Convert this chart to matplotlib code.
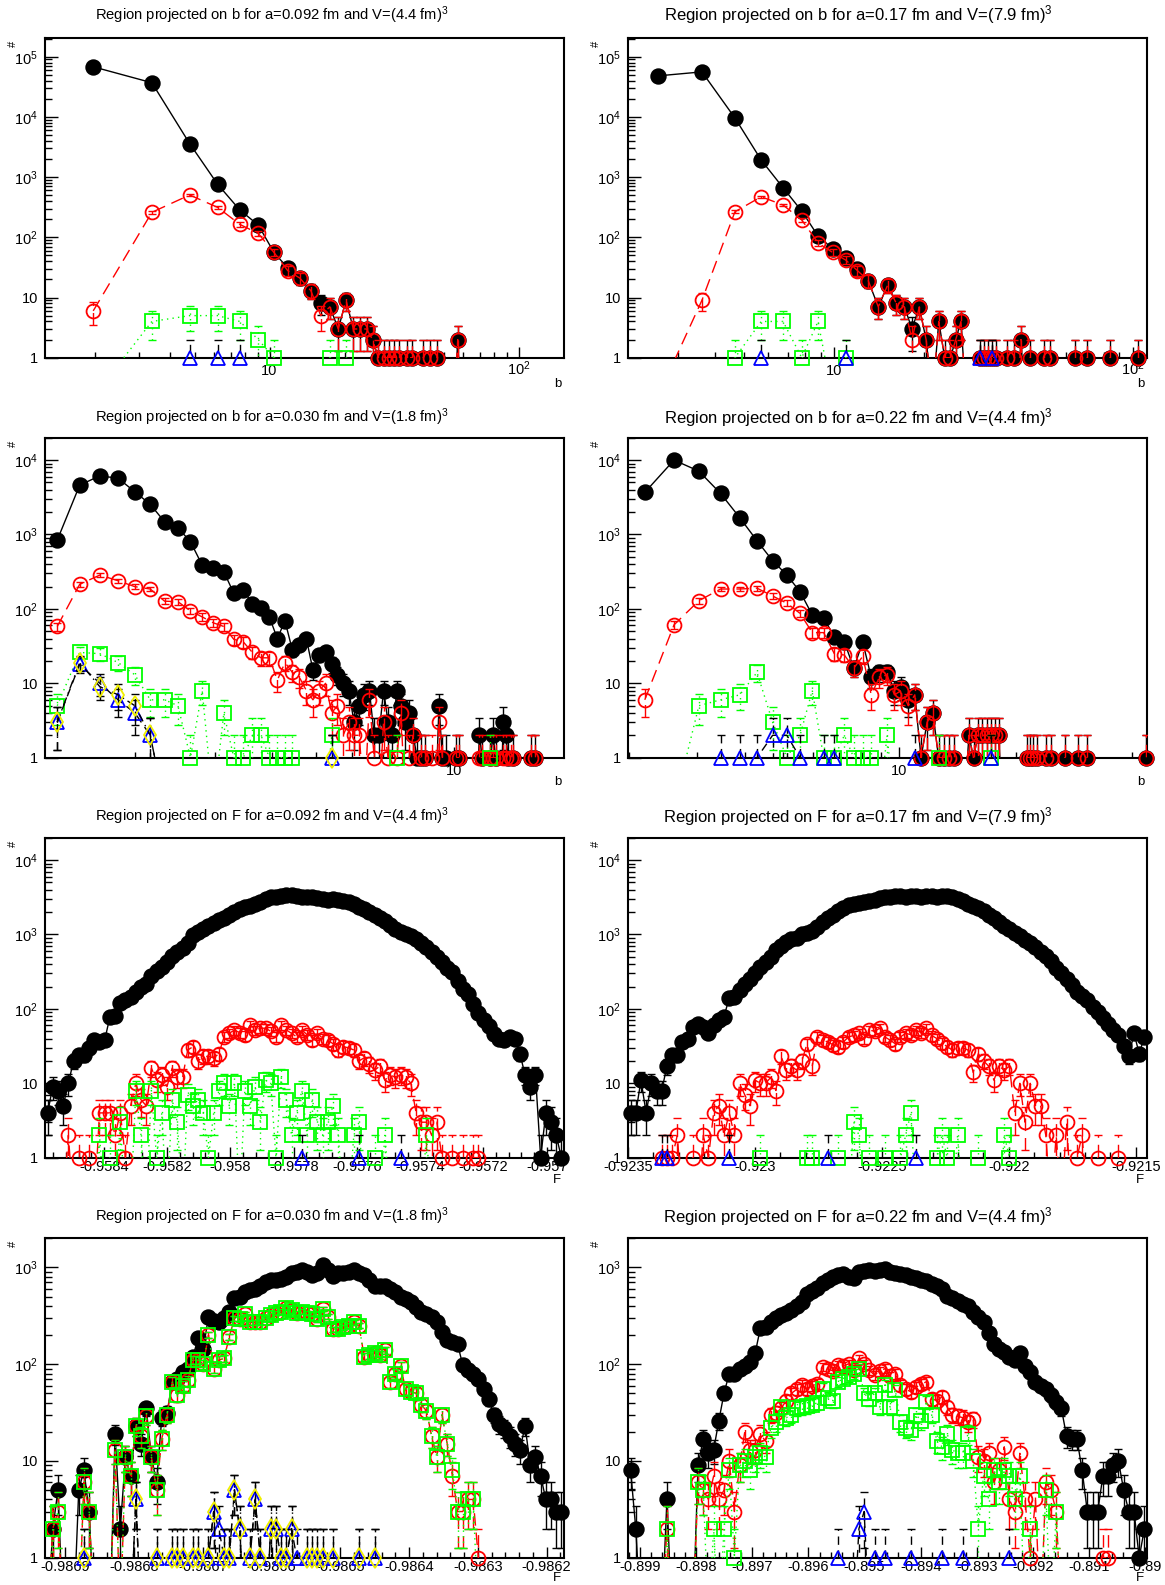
import numpy as np
import matplotlib
matplotlib.use("Agg")
import matplotlib.pyplot as plt
from matplotlib.ticker import (LogLocator, MultipleLocator, AutoMinorLocator,
                               FuncFormatter, NullFormatter)
from matplotlib.transforms import blended_transform_factory

plt.rcParams["font.family"] = ["Liberation Sans", "DejaVu Sans"]
plt.rcParams["mathtext.default"] = "regular"

# ---------------------------------------------------------------- data
# histogram binning: (low edge, high edge, number of bins)
b092_bins = (1.255, 152.125, 107)
b017_bins = (2.0375, 111.76, 105)
b030_bins = (1.269, 17.469, 100)
b022_bins = (1.987, 43.787, 100)
f092_bins = (-0.9585866, -0.9569453, 100)
f017_bins = (-0.9235, -0.921456, 100)
f030_bins = (-0.9869295, -0.9861748, 100)
f022_bins = (-0.899212, -0.88997, 100)

# counts per bin (bins not listed are empty)
b092_black = [68000, 37000, 3600, 760, 284, 160, 56, 31, 21, 13,
              8, 7, 3, 9, 3, 3, 3, 2, 1, 1,
              1, 1, 1, 0, 1, 1, 0, 0, 1, 0,
              1, 0, 1, 0, 0, 0, 0, 0, 0, 2]
b092_red = [6, 260, 505, 314, 164, 116, 56, 28, 21, 13,
            5, 7, 3, 9, 3, 3, 3, 2, 1, 1,
            1, 1, 1, 0, 1, 1, 0, 0, 1, 0,
            1, 0, 1, 0, 0, 0, 0, 0, 0, 2]
b092_green = [0, 4, 5, 5, 4, 2, 1, 0, 0, 0, 0, 1, 0, 1]
b092_blue = [0, 0, 1, 1, 1]

b017_black = [48000, 56000, 9600, 1920, 667, 273, 105, 65, 45, 30,
              19, 7, 16, 8, 7, 3, 7, 2, 0, 4,
              1, 1, 2, 4, 0, 0, 0, 1, 1, 1,
              1, 1, 0, 0, 1, 0, 1, 0, 2, 0,
              0, 1, 0, 0, 0, 0, 1, 0, 1, 0,
              0, 0, 0, 0, 0, 0, 0, 0, 0, 1,
              0, 0, 0, 0, 0, 1, 0, 0, 0, 0,
              0, 0, 0, 0, 0, 0, 0, 0, 1, 0,
              0, 0, 0, 0, 0, 0, 0, 0, 0, 0,
              0, 0, 0, 0, 0, 0, 0, 1]
b017_red = [0, 9, 266, 472, 344, 194, 81, 56, 42, 28,
            19, 7, 16, 8, 7, 2, 7, 2, 0, 4,
            1, 1, 2, 4, 0, 0, 0, 1, 1, 1,
            1, 1, 0, 0, 1, 0, 1, 0, 2, 0,
            0, 1, 0, 0, 0, 0, 1, 0, 1, 0,
            0, 0, 0, 0, 0, 0, 0, 0, 0, 1,
            0, 0, 0, 0, 0, 1, 0, 0, 0, 0,
            0, 0, 0, 0, 0, 0, 0, 0, 1, 0,
            0, 0, 0, 0, 0, 0, 0, 0, 0, 0,
            0, 0, 0, 0, 0, 0, 0, 1]
b017_green = [0, 0, 1, 4, 4, 1, 4, 0, 1]
b017_blue = [0, 0, 0, 1, 0, 0, 0, 0, 1, 0,
             0, 0, 0, 0, 0, 0, 0, 0, 0, 0,
             0, 0, 0, 0, 0, 0, 0, 1, 0, 0,
             1]

b030_black = [840, 4600, 6150, 5700, 3750, 2540, 1480, 1230, 800, 388,
              350, 316, 162, 179, 118, 102, 78, 40, 69, 28,
              33, 40, 15, 24, 26, 18, 13, 10, 8, 3,
              5, 7, 8, 2, 2, 8, 3, 2, 8, 5,
              3, 4, 2, 1, 1, 1, 0, 0, 0, 5,
              1, 1, 0, 0, 1, 1, 0, 0, 0, 0,
              0, 0, 2, 1, 0, 0, 1, 2, 1, 0,
              0, 3, 2, 1, 0, 1, 0, 0, 0, 0,
              0, 0, 0, 1, 0, 1]
b030_red = [58, 214, 285, 239, 199, 185, 127, 125, 94, 78,
            65, 58, 39, 36, 26, 22, 22, 11, 19, 14,
            12, 8, 6, 8, 10, 4, 5, 2, 3, 2,
            2, 0, 6, 1, 0, 3, 1, 0, 1, 4,
            0, 1, 2, 0, 1, 1, 0, 1, 0, 3,
            1, 0, 0, 0, 1, 1, 0, 0, 0, 0,
            0, 0, 1, 1, 0, 0, 1, 1, 1, 0,
            0, 1, 1, 0, 1, 1, 0, 0, 0, 0,
            0, 0, 0, 1, 0, 1]
b030_green = [5, 26, 25, 19, 13, 6, 6, 5, 1, 8,
              0, 4, 1, 1, 2, 2, 1, 1, 1, 1,
              0, 0, 0, 0, 0, 2, 0, 0, 0, 0,
              0, 0, 0, 0, 0, 0, 0, 0, 1, 0,
              0, 0, 0, 0, 0, 0, 0, 0, 0, 0,
              0, 0, 0, 0, 0, 0, 0, 0, 0, 0,
              0, 0, 0, 0, 0, 0, 1]
b030_blue = [3, 18, 10, 6, 4, 2, 0, 0, 0, 0,
             0, 0, 0, 0, 0, 0, 0, 0, 0, 0,
             0, 0, 0, 0, 0, 1]
b030_yellow = [3, 19, 9, 7, 5, 2, 0, 0, 0, 0,
               0, 0, 0, 0, 0, 0, 0, 0, 0, 0,
               0, 0, 0, 0, 0, 1]

b022_black = [3680, 10000, 7100, 3560, 1680, 824, 444, 285, 170, 83,
              76, 42, 36, 16, 36, 12, 14, 14, 8, 9,
              6, 7, 1, 3, 4, 1, 1, 1, 1, 0,
              0, 2, 1, 2, 2, 2, 2, 2, 2, 0,
              0, 0, 0, 0, 0, 0, 1, 1, 1, 1,
              0, 0, 1, 0, 1, 0, 0, 0, 0, 1,
              0, 0, 0, 0, 1, 0, 0, 0, 1, 0,
              0, 0, 0, 0, 0, 0, 0, 0, 0, 0,
              0, 0, 0, 0, 0, 0, 0, 0, 0, 0,
              0, 0, 0, 0, 0, 0, 0, 0, 0, 1]
b022_red = [6, 61, 129, 185, 185, 190, 149, 119, 87, 48,
            48, 25, 24, 16, 23, 7, 12, 13, 7, 8,
            5, 7, 1, 3, 4, 1, 1, 1, 1, 0,
            0, 2, 1, 2, 2, 2, 2, 2, 2, 0,
            0, 0, 0, 0, 0, 0, 1, 1, 1, 1,
            0, 0, 1, 0, 1, 0, 0, 0, 0, 1,
            0, 0, 0, 0, 1, 0, 0, 0, 1, 0,
            0, 0, 0, 0, 0, 0, 0, 0, 0, 0,
            0, 0, 0, 0, 0, 0, 0, 0, 0, 0,
            0, 0, 0, 0, 0, 0, 0, 0, 0, 1]
b022_green = [0, 0, 5, 6, 7, 14, 3, 1, 2, 8,
              1, 1, 2, 1, 1, 1, 0, 2, 0, 0,
              0, 0, 0, 0, 0, 1, 0, 0, 0, 0,
              0, 0, 0, 0, 0, 0, 1]
b022_blue = [0, 0, 0, 1, 1, 1, 2, 2, 1, 0,
             1, 1, 0, 0, 0, 0, 0, 0, 0, 0,
             0, 1, 0, 0, 0, 0, 0, 0, 0, 0,
             0, 0, 0, 0, 0, 0, 1]

f092_black = [4, 9, 8, 5, 10, 20, 24, 24, 30, 38,
              36, 38, 78, 80, 120, 130, 145, 170, 195, 215,
              280, 320, 370, 430, 520, 590, 650, 760, 980, 1080,
              1200, 1300, 1420, 1550, 1650, 1830, 2000, 2200, 2350, 2450,
              2600, 2750, 3000, 3150, 3200, 3250, 3350, 3350, 3250, 3200,
              3200, 3150, 3050, 2980, 2950, 3000, 2950, 2850, 2750, 2550,
              2350, 2200, 2000, 1850, 1650, 1500, 1350, 1200, 1080, 1000,
              940, 870, 760, 680, 580, 500, 430, 360, 310, 240,
              185, 160, 115, 88, 72, 58, 46, 40, 38, 42,
              40, 25, 13, 9, 13, 1, 4, 3, 2, 1]
f092_red = [0, 0, 0, 0, 2, 0, 1, 0, 1, 0,
            4, 4, 4, 2, 4, 1, 5, 10, 6, 5,
            16, 11, 13, 9, 16, 12, 12, 28, 31, 20,
            23, 23, 22, 25, 42, 47, 52, 48, 44, 60,
            52, 55, 55, 50, 42, 60, 52, 47, 42, 52,
            45, 38, 47, 40, 38, 34, 28, 31, 30, 28,
            20, 22, 18, 15, 17, 11, 13, 12, 13, 12,
            10, 4, 3, 3, 2, 3, 1, 0, 1, 0,
            1, 0, 1, 1]
f092_green = [0, 0, 0, 0, 0, 0, 0, 0, 0, 0,
              2, 0, 1, 0, 3, 0, 0, 8, 2, 0,
              8, 1, 4, 0, 6, 3, 0, 7, 5, 6,
              4, 1, 4, 8, 10, 5, 10, 0, 8, 5,
              9, 3, 11, 10, 1, 12, 6, 2, 4, 8,
              2, 6, 3, 2, 3, 5, 2, 0, 0, 2,
              3, 0, 0, 1, 0, 2, 0, 0, 0, 0,
              0, 0, 0, 2]
f092_blue = [0, 0, 0, 0, 0, 0, 0, 0, 0, 0,
             0, 0, 0, 0, 0, 0, 0, 0, 0, 0,
             0, 0, 0, 0, 0, 0, 0, 0, 0, 0,
             0, 0, 0, 0, 0, 0, 0, 0, 0, 0,
             0, 0, 0, 0, 0, 0, 0, 0, 0, 1,
             0, 0, 0, 0, 0, 0, 0, 0, 0, 0,
             1, 0, 0, 0, 0, 0, 0, 0, 1]

f017_black = [4, 4, 11, 4, 10, 8, 8, 17, 24, 24,
              36, 40, 57, 63, 57, 47, 60, 70, 79, 140,
              145, 180, 215, 250, 300, 370, 430, 500, 610, 710,
              790, 860, 900, 1000, 1060, 1120, 1250, 1450, 1650, 1850,
              2100, 2300, 2500, 2570, 2650, 2750, 2850, 2950, 3050, 3150,
              3200, 3250, 3250, 3200, 3250, 3250, 3200, 3250, 3250, 3200,
              3250, 3250, 3200, 3000, 2800, 2600, 2450, 2250, 2050, 1850,
              1650, 1450, 1300, 1170, 1050, 950, 850, 760, 670, 590,
              510, 440, 360, 300, 250, 210, 170, 150, 130, 105,
              90, 75, 62, 52, 45, 32, 23, 47, 25, 42]
f017_red = [0, 0, 0, 0, 0, 0, 1, 1, 1, 2,
            0, 0, 1, 0, 2, 1, 4, 5, 2, 4,
            2, 10, 7, 5, 11, 10, 10, 12, 8, 23,
            15, 17, 15, 20, 34, 17, 42, 38, 36, 33,
            31, 36, 42, 44, 47, 40, 52, 50, 55, 42,
            38, 34, 42, 47, 45, 52, 48, 55, 44, 40,
            35, 31, 28, 30, 30, 28, 14, 25, 20, 17,
            11, 17, 15, 17, 4, 10, 3, 10, 5, 5,
            2, 0, 2, 0, 3, 0, 1, 2, 0, 0,
            1, 0, 0, 0, 1]
f017_green = [0, 0, 0, 0, 0, 0, 0, 0, 0, 0,
              0, 0, 0, 0, 0, 0, 0, 0, 0, 0,
              0, 0, 0, 0, 0, 1, 0, 0, 0, 0,
              0, 0, 0, 0, 1, 1, 0, 0, 0, 0,
              1, 0, 0, 3, 2, 0, 1, 0, 0, 1,
              0, 0, 1, 2, 4, 0, 0, 0, 0, 1,
              2, 1, 0, 2, 0, 0, 0, 1, 0, 0,
              0, 0, 2, 1]
f017_blue = [0, 0, 0, 0, 0, 0, 1, 1, 0, 0,
             0, 0, 0, 0, 0, 0, 0, 0, 0, 1,
             0, 0, 0, 0, 0, 0, 0, 0, 0, 0,
             0, 0, 0, 0, 0, 0, 0, 0, 1, 0,
             0, 0, 0, 0, 0, 0, 0, 0, 0, 0,
             0, 0, 0, 0, 0, 1]

f030_black = [0, 2, 5, 0, 0, 0, 5, 8, 3, 0,
              0, 0, 0, 19, 2, 11, 7, 23, 15, 35,
              11, 6, 28, 31, 65, 70, 83, 90, 120, 185,
              145, 310, 280, 270, 300, 350, 480, 500, 560, 580,
              600, 650, 700, 740, 750, 760, 800, 870, 900, 940,
              900, 830, 880, 1050, 950, 810, 870, 870, 900, 940,
              880, 830, 740, 650, 640, 640, 600, 560, 500, 470,
              440, 390, 350, 330, 310, 270, 215, 180, 170, 160,
              98, 87, 80, 71, 56, 44, 30, 24, 22, 18,
              15, 13, 23, 9, 11, 7, 4, 4, 3, 3]
f030_red = [0, 2, 3, 0, 0, 0, 0, 6, 3, 0,
            0, 0, 0, 13, 0, 11, 7, 23, 18, 29,
            11, 5, 17, 30, 65, 48, 60, 68, 110, 110,
            100, 200, 90, 110, 115, 190, 300, 290, 330, 270,
            270, 270, 300, 320, 340, 350, 380, 360, 340, 350,
            340, 330, 290, 370, 310, 230, 230, 240, 250, 270,
            250, 120, 125, 130, 125, 140, 65, 80, 95, 55,
            52, 50, 38, 33, 18, 11, 30, 15, 7, 3,
            3, 4, 4, 1]
f030_green = [0, 2, 3, 0, 0, 0, 0, 6, 3, 0,
              0, 0, 0, 13, 0, 11, 7, 23, 18, 29,
              11, 5, 17, 30, 65, 48, 60, 68, 110, 110,
              100, 200, 90, 110, 115, 190, 300, 290, 330, 270,
              270, 270, 300, 320, 340, 350, 380, 360, 340, 350,
              340, 330, 290, 370, 310, 230, 230, 240, 250, 270,
              250, 120, 125, 130, 125, 140, 65, 80, 95, 55,
              52, 50, 38, 33, 18, 11, 30, 15, 8, 3,
              3, 4, 4]
f030_blue = [0, 0, 0, 0, 0, 0, 0, 1, 0, 0,
             0, 0, 0, 0, 0, 0, 0, 4, 0, 0,
             0, 1, 0, 0, 1, 1, 1, 0, 1, 1,
             0, 1, 3, 2, 1, 1, 5, 2, 0, 1,
             4, 1, 0, 2, 2, 1, 1, 2, 1, 0,
             1, 1, 1, 1, 0, 1, 0, 0, 0, 0,
             1, 0, 0, 1]
f030_yellow = [0, 0, 0, 0, 0, 0, 0, 1, 0, 0,
               0, 0, 0, 0, 0, 0, 0, 4, 0, 0,
               0, 1, 0, 0, 1, 1, 1, 0, 1, 1,
               0, 1, 3, 0, 1, 1, 5, 2, 0, 1,
               4, 1, 0, 2, 2, 1, 1, 2, 0, 0,
               1, 1, 1, 1, 0, 1, 0, 0, 0, 0,
               1, 0, 0, 1]

f022_black = [8, 2, 0, 0, 0, 0, 0, 4, 0, 0,
              0, 0, 0, 9, 17, 12, 13, 26, 50, 80,
              80, 90, 95, 106, 130, 235, 244, 270, 300, 320,
              340, 360, 400, 440, 530, 570, 620, 685, 740, 800,
              830, 860, 800, 780, 890, 920, 940, 920, 950, 960,
              900, 880, 860, 830, 790, 770, 750, 720, 680, 650,
              600, 510, 480, 450, 420, 400, 350, 310, 275, 210,
              160, 145, 135, 120, 110, 130, 95, 84, 66, 60,
              56, 48, 41, 35, 18, 17, 17, 8, 3, 3,
              3, 7, 7, 9, 10, 5, 3, 3, 1, 2]
f022_red = [0, 0, 0, 0, 0, 0, 0, 2, 0, 0,
            0, 0, 0, 6, 5, 4, 7, 4, 5, 10,
            3, 9, 20, 13, 13, 19, 16, 30, 31, 35,
            42, 50, 55, 61, 56, 60, 63, 94, 90, 85,
            98, 95, 101, 88, 115, 100, 87, 77, 85, 90,
            75, 80, 61, 55, 52, 58, 62, 66, 44, 42,
            46, 36, 30, 29, 28, 25, 27, 11, 10, 12,
            6, 8, 14, 4, 3, 12, 4, 1, 4, 0,
            6, 5, 3, 0, 0, 0, 0, 0, 0, 0,
            0, 1, 1]
f022_green = [0, 0, 0, 0, 0, 0, 0, 2, 0, 0,
              0, 0, 0, 6, 5, 0, 2, 0, 2, 8,
              1, 9, 10, 8, 11, 12, 11, 22, 25, 36,
              28, 30, 35, 36, 37, 38, 40, 56, 45, 42,
              66, 71, 74, 80, 90, 50, 44, 50, 36, 61,
              36, 54, 25, 22, 21, 30, 26, 41, 30, 16,
              14, 19, 13, 12, 12, 19, 10, 2, 7, 4,
              8, 6, 8, 7, 4, 7, 0, 2, 0, 0,
              5, 0, 3]
f022_blue = [0, 0, 0, 0, 0, 0, 0, 0, 0, 0,
             0, 0, 0, 0, 0, 0, 0, 0, 0, 0,
             0, 0, 0, 0, 0, 0, 0, 0, 0, 0,
             0, 0, 0, 0, 0, 0, 0, 0, 0, 0,
             1, 0, 0, 0, 2, 3, 0, 1, 0, 1,
             0, 0, 0, 0, 1, 0, 0, 0, 0, 0,
             1, 0, 0, 0, 1, 0, 0, 0, 0, 0,
             0, 0, 0, 1]

PANELS = [
    dict(title="Region projected on b for a=0.092 fm and V=(4.4 fm)$^{3}$", xlabel="b",
         logx=True, bins=b092_bins, ymax=2.07e5,
         series=[("black", b092_black), ("red", b092_red), ("green", b092_green),
                 ("blue", b092_blue)]),
    dict(title="Region projected on b for a=0.17 fm and V=(7.9 fm)$^{3}$", xlabel="b",
         logx=True, bins=b017_bins, ymax=2.07e5,
         series=[("black", b017_black), ("red", b017_red), ("green", b017_green),
                 ("blue", b017_blue)]),
    dict(title="Region projected on b for a=0.030 fm and V=(1.8 fm)$^{3}$", xlabel="b",
         logx=True, bins=b030_bins, ymax=2.0e4,
         series=[("black", b030_black), ("red", b030_red), ("green", b030_green),
                 ("blue", b030_blue), ("yellow", b030_yellow)]),
    dict(title="Region projected on b for a=0.22 fm and V=(4.4 fm)$^{3}$", xlabel="b",
         logx=True, bins=b022_bins, ymax=2.0e4,
         series=[("black", b022_black), ("red", b022_red), ("green", b022_green),
                 ("blue", b022_blue)]),
    dict(title="Region projected on F for a=0.092 fm and V=(4.4 fm)$^{3}$", xlabel="F",
         logx=False, step=0.0002, bins=f092_bins, ymax=2.0e4,
         series=[("black", f092_black), ("red", f092_red), ("green", f092_green),
                 ("blue", f092_blue)]),
    dict(title="Region projected on F for a=0.17 fm and V=(7.9 fm)$^{3}$", xlabel="F",
         logx=False, step=0.0005, bins=f017_bins, ymax=2.0e4,
         series=[("black", f017_black), ("red", f017_red), ("green", f017_green),
                 ("blue", f017_blue)]),
    dict(title="Region projected on F for a=0.030 fm and V=(1.8 fm)$^{3}$", xlabel="F",
         logx=False, step=0.0001, bins=f030_bins, ymax=2.03e3,
         series=[("black", f030_black), ("red", f030_red), ("green", f030_green),
                 ("blue", f030_blue), ("yellow", f030_yellow)]),
    dict(title="Region projected on F for a=0.22 fm and V=(4.4 fm)$^{3}$", xlabel="F",
         logx=False, step=0.001, bins=f022_bins, ymax=2.03e3,
         series=[("black", f022_black), ("red", f022_red), ("green", f022_green),
                 ("blue", f022_blue)]),
]

# ---------------------------------------------------------------- style
STYLES = {
    "black":  dict(color="black", marker="o", ms=10.5, filled=True, ls="-", lcolor="black"),
    "red":    dict(color="red", marker="o", ms=10.0, filled=False, ls=(0, (9, 5)), lcolor="red"),
    "green":  dict(color="#00ff00", marker="s", ms=9.5, filled=False, ls=(0, (1, 3)), lcolor="#00ff00"),
    "blue":   dict(color="blue", marker="^", ms=10.5, filled=False, ls=(0, (6, 4)), lcolor="black"),
    "yellow": dict(color="#f0f000", marker="d", ms=10.0, filled=False, ls=(0, (6, 3, 1, 3)), lcolor="black"),
}
ZERO = 0.22   # where empty bins sit when the line is drawn (below the frame)

W, H = 1165, 1585
COLS = [(45, 564), (628, 1147)]
ROW_TOP = [37.7, 437.7, 837.7, 1237.7]
AX_H = 320
TITLE_X = [272, 858]
TITLE_Y = [15, 417.5, 816.5, 1216.5]
TITLE_FS = [10.6, 12.0]
XLAB_DY = [26.5, 24.5, 22.0, 20.5]


def pow10(v, _):
    e = int(round(np.log10(v)))
    if e == 0:
        return "1"
    if e == 1:
        return "10"
    return r"$10^{%d}$" % e


def fixed4(v, _):
    return f"{v:.4f}".rstrip("0").rstrip(".")


def bin_centers(lo, hi, n):
    edges = np.linspace(lo, hi, n + 1)
    return 0.5 * (edges[:-1] + edges[1:])


def draw_series(ax, x, counts, st, z):
    y = np.zeros(len(x))
    y[:len(counts)] = counts
    ax.plot(x, np.where(y > 0, y, ZERO), color=st["lcolor"], ls=st["ls"], lw=1.0, zorder=z)
    m = y > 0
    xs, ys = x[m], y[m]
    err = np.sqrt(ys)
    lo = ys - np.maximum(ys - err, 0.05)
    eb = ax.errorbar(xs, ys, yerr=[lo, err], fmt="none", ecolor=st["lcolor"],
                     elinewidth=1.0, capsize=3.2, capthick=1.0, zorder=z + 0.5)
    for lc in eb[2]:
        lc.set_linestyle(st["ls"])
    ax.plot(xs, ys, ls="none", marker=st["marker"], ms=st["ms"],
            mfc=st["color"] if st["filled"] else "none", mec=st["color"], mew=1.3,
            clip_on=False, zorder=z + 1)


fig = plt.figure(figsize=(W / 100, H / 100), dpi=100)
fig.patch.set_facecolor("white")

for i, p in enumerate(PANELS):
    r, c = divmod(i, 2)
    x0, x1 = COLS[c]
    top = ROW_TOP[r]
    ax = fig.add_axes([x0 / W, 1 - (top + AX_H) / H, (x1 - x0) / W, AX_H / H])

    lo, hi, n = p["bins"]
    x = bin_centers(lo, hi, n)
    for k, (name, counts) in enumerate(p["series"]):
        draw_series(ax, x, counts, STYLES[name], 2 + 2 * k)

    ax.set_yscale("log")
    ax.set_ylim(1, p["ymax"])
    ax.yaxis.set_major_locator(LogLocator(base=10, numticks=12))
    ax.yaxis.set_minor_locator(LogLocator(base=10, subs=np.arange(2, 10), numticks=12))
    ax.yaxis.set_major_formatter(FuncFormatter(pow10))
    ax.yaxis.set_minor_formatter(NullFormatter())

    if p["logx"]:
        ax.set_xscale("log")
        ax.xaxis.set_major_locator(LogLocator(base=10, numticks=12))
        ax.xaxis.set_minor_locator(LogLocator(base=10, subs=np.arange(2, 10), numticks=12))
        ax.xaxis.set_major_formatter(NullFormatter())
        ax.xaxis.set_minor_formatter(NullFormatter())
        # decade labels on a common baseline, as ROOT draws them
        tr = blended_transform_factory(ax.transData, ax.transAxes)
        for e in range(int(np.ceil(np.log10(lo))), int(np.floor(np.log10(hi))) + 1):
            ax.text(10.0 ** e, -17 / AX_H, pow10(10.0 ** e, None), transform=tr,
                    ha="center", va="baseline", fontsize=10.5)
    else:
        ax.xaxis.set_major_locator(MultipleLocator(p["step"]))
        ax.xaxis.set_minor_locator(AutoMinorLocator(5))
        ax.xaxis.set_major_formatter(FuncFormatter(fixed4))
    ax.set_xlim(lo, hi)

    for s in ax.spines.values():
        s.set_linewidth(1.5)
    ax.tick_params(axis="y", which="major", direction="in", length=9.5, width=1.0,
                   labelsize=10.5, pad=5, right=False)
    ax.tick_params(axis="y", which="minor", direction="in", length=5, width=1.0, right=False)
    ax.tick_params(axis="x", which="major", direction="in", length=8, width=1.0,
                   labelsize=10.5, pad=2, top=False)
    ax.tick_params(axis="x", which="minor", direction="in", length=4, width=1.0, top=False)

    fig.text(TITLE_X[c] / W, 1 - TITLE_Y[r] / H, p["title"], ha="center", va="center",
             fontsize=TITLE_FS[c])
    fig.text((x0 - 32) / W, 1 - (top + 6) / H, "#", rotation=90, ha="center", va="center",
             fontsize=8)
    fig.text((x1 - 3) / W, 1 - (top + AX_H + XLAB_DY[r]) / H, p["xlabel"], ha="right",
             va="center", fontsize=9.5)

fig.savefig("out.png", dpi=100)
